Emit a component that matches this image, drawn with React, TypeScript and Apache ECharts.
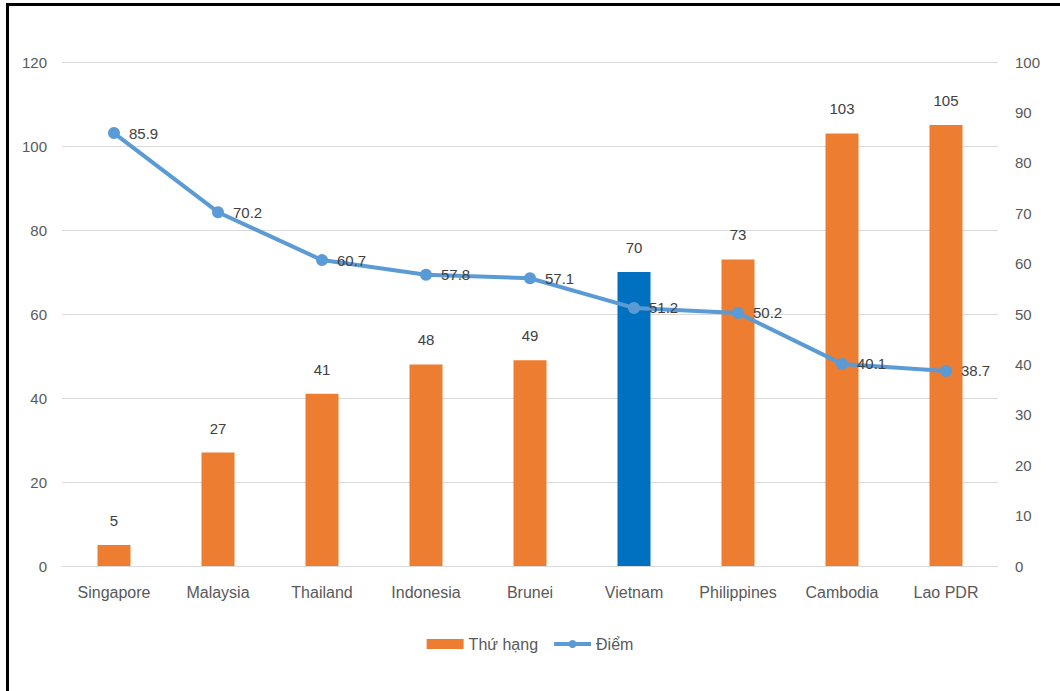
import React, { useEffect, useRef } from "react";
import * as echarts from "echarts";

const categories = ["Singapore", "Malaysia", "Thailand", "Indonesia", "Brunei", "Vietnam", "Philippines", "Cambodia", "Lao PDR"];
const rankValues = [5, 27, 41, 48, 49, 70, 73, 103, 105];
const scoreValues = [85.9, 70.2, 60.7, 57.8, 57.1, 51.2, 50.2, 40.1, 38.7];
const highlightCategory = "Vietnam";
const rankName = "Thứ hạng";
const scoreName = "Điểm";

const FONT = "'Liberation Sans', Arial, sans-serif";
const ORANGE = "#ED7D31";
const DARK_BLUE = "#0070C0";
const LINE_BLUE = "#5B9BD5";
const TEXT = "#595959";

export default function App() {
  const ref = useRef<HTMLDivElement>(null);

  useEffect(() => {
    if (!ref.current) return;
    const chart = echarts.init(ref.current, null, { renderer: "svg" });
    chart.setOption({
      animation: false,
      backgroundColor: "#ffffff",
      textStyle: { fontFamily: FONT },
      grid: { left: 62, right: 62, top: 62, bottom: 125 },
      legend: {
        bottom: 34,
        left: "center",
        itemWidth: 37,
        itemHeight: 10,
        itemGap: 14,
        textStyle: { fontFamily: FONT, fontSize: 16, color: TEXT },
        data: [
          { name: rankName, icon: "rect" },
          { name: scoreName, lineStyle: { width: 4, color: LINE_BLUE } },
        ],
      },
      xAxis: {
        type: "category",
        data: categories,
        axisLine: { lineStyle: { color: "#D9D9D9", width: 1 } },
        axisTick: { show: false },
        axisLabel: { color: TEXT, fontSize: 16, fontFamily: FONT, margin: 18 },
      },
      yAxis: [
        {
          type: "value",
          min: 0,
          max: 120,
          interval: 20,
          axisLine: { show: false },
          axisTick: { show: false },
          axisLabel: { color: TEXT, fontSize: 15, fontFamily: FONT, margin: 15 },
          splitLine: { lineStyle: { color: "#D9D9D9", width: 1 } },
        },
        {
          type: "value",
          min: 0,
          max: 100,
          interval: 10,
          axisLine: { show: false },
          axisTick: { show: false },
          axisLabel: { color: TEXT, fontSize: 15, fontFamily: FONT, margin: 17 },
          splitLine: { show: false },
        },
      ],
      series: [
        {
          name: rankName,
          type: "bar",
          yAxisIndex: 0,
          barWidth: 33,
          itemStyle: { color: ORANGE },
          data: rankValues.map((v, i) =>
            categories[i] === highlightCategory ? { value: v, itemStyle: { color: DARK_BLUE } } : v
          ),
          label: {
            show: true,
            position: "top",
            distance: 17,
            color: "#404040",
            fontSize: 15,
            fontFamily: FONT,
          },
        },
        {
          name: scoreName,
          type: "line",
          yAxisIndex: 1,
          data: scoreValues,
          symbol: "circle",
          symbolSize: 12,
          lineStyle: { color: LINE_BLUE, width: 4 },
          itemStyle: { color: LINE_BLUE },
          label: {
            show: true,
            position: "right",
            distance: 9,
            color: "#404040",
            fontSize: 15,
            fontFamily: FONT,
          },
        },
      ],
    });
    return () => chart.dispose();
  }, []);

  return (
    <div style={{ position: "fixed", left: 0, top: 0, width: 1060, height: 691, background: "#fff", overflow: "hidden" }}>
      <div ref={ref} style={{ position: "absolute", left: 0, top: 0, width: 1060, height: 691 }} />
      <div style={{ position: "absolute", left: 6, top: 3, width: 1060, height: 3, background: "#000" }} />
      <div style={{ position: "absolute", left: 6, top: 3, width: 3, height: 700, background: "#000" }} />
    </div>
  );
}
